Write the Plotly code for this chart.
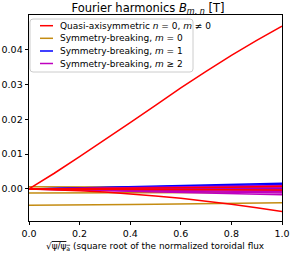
import plotly.graph_objects as go

s = [0.0, 0.1, 0.2, 0.3, 0.4, 0.5, 0.6, 0.7, 0.8, 0.9, 1.0]

# Quasi-axisymmetric n=0, m!=0
qa_series = [
    [0, 0.0045, 0.0093, 0.0141, 0.0190, 0.0240, 0.0290, 0.0337, 0.0383, 0.0426, 0.0467],
    [0, -0.0002, -0.0005, -0.0009, -0.0014, -0.0020, -0.0027, -0.0035, -0.0044, -0.0054, -0.0065],
    [0, 0.00003, 0.0001, 0.0001, 0.0002, 0.0002, 0.0003, 0.0004, 0.0005, 0.0006, 0.0008],
    [0, -0.00002, -0.00005, -0.0001, -0.0001, -0.00015, -0.0002, -0.0002, -0.00025, -0.0003, -0.0003],
]
# Symmetry-breaking m=0
m0_series = [
    [0.0006, 0.0006, 0.0006, 0.0006, 0.0006, 0.0005, 0.0005, 0.0005, 0.0005, 0.0004, 0.0004],
    [-0.0012, -0.0012, -0.0012, -0.0012, -0.0011, -0.0011, -0.0011, -0.0010, -0.0010, -0.0009, -0.0009],
    [-0.0047, -0.0047, -0.0046, -0.0046, -0.0045, -0.0044, -0.0043, -0.0043, -0.0042, -0.0041, -0.0040],
]
# Symmetry-breaking m=1
m1_series = [
    [0, 0.00016, 0.00032, 0.00048, 0.00064, 0.0008, 0.00096, 0.00112, 0.00128, 0.00144, 0.0016],
    [0, 0.00013, 0.00026, 0.00039, 0.00052, 0.00065, 0.00078, 0.00091, 0.00104, 0.00117, 0.0013],
    [0, 0.0001, 0.0002, 0.0003, 0.0004, 0.0005, 0.0006, 0.0007, 0.0008, 0.0009, 0.0010],
    [0, 0.00007, 0.00014, 0.00021, 0.00028, 0.00035, 0.00042, 0.00049, 0.00056, 0.00063, 0.0007],
    [0, 0.00004, 0.00008, 0.00012, 0.00016, 0.0002, 0.00024, 0.00028, 0.00032, 0.00036, 0.0004],
    [0, 0.00001, 0.00002, 0.00003, 0.00004, 0.00005, 0.00006, 0.00007, 0.00008, 0.00009, 0.0001],
]
# Symmetry-breaking m>=2
m2_series = [
    [0, 0.0001, 0.0002, 0.0003, 0.0004, 0.0005, 0.0006, 0.0007, 0.0008, 0.0009, 0.0010],
    [0, 0.00005, 0.0001, 0.00015, 0.0002, 0.00025, 0.0003, 0.00035, 0.0004, 0.00045, 0.0005],
    [0, 0.0, 0.0, 0.0, 0.0, 0.0, 0.0, 0.0, 0.0, 0.0, 0.0],
    [0, -0.00004, -0.00008, -0.00012, -0.00016, -0.0002, -0.00024, -0.00028, -0.00032, -0.00036, -0.0004],
    [0, -0.00008, -0.00016, -0.00024, -0.00032, -0.0004, -0.00048, -0.00056, -0.00064, -0.00072, -0.0008],
    [0, -0.00012, -0.00024, -0.00036, -0.00048, -0.0006, -0.00072, -0.00084, -0.00096, -0.00108, -0.0012],
    [0, -0.00017, -0.00034, -0.00051, -0.00068, -0.00085, -0.00102, -0.00119, -0.00136, -0.00153, -0.0017],
]

labels = [
    "Quasi-axisymmetric <i>n</i> = 0, <i>m</i> ≠ 0",
    "Symmetry-breaking, <i>m</i> = 0",
    "Symmetry-breaking, <i>m</i> = 1",
    "Symmetry-breaking, <i>m</i> ≥ 2",
]
colors = ["#ff0000", "#c48c12", "#0000ff", "#bf00bf"]
groups = [qa_series, m0_series, m1_series, m2_series]

x_ticks = [0.0, 0.2, 0.4, 0.6, 0.8, 1.0]
y_ticks = [0.00, 0.01, 0.02, 0.03, 0.04]

# figure geometry (pixels)
W, H = 291, 259
ML, MR, MT, MB = 29, 9, 15, 38
PW, PH = W - ML - MR, H - MT - MB


def px_x(px):
    return (px - ML) / PW


def px_y(py):
    return (H - MB - py) / PH


fig = go.Figure()
draw_order = [1, 2, 3, 0]
for gi in draw_order:
    for k, ys in enumerate(groups[gi]):
        fig.add_trace(go.Scatter(
            x=s, y=ys, mode="lines",
            line=dict(color=colors[gi], width=1.5),
            name=labels[gi], legendgroup=str(gi),
            showlegend=False,
            hoverinfo="skip",
        ))

font = "DejaVu Sans"

# matplotlib-style legend box with rounded corners (drawn as shapes/annotations)
bx0, bx1, by0, by1 = 30, 193, 19, 72
hw, hh, r = (bx1 - bx0) / 2, (by1 - by0) / 2, 3
path = (f"M {-hw + r},{-hh} L {hw - r},{-hh} Q {hw},{-hh} {hw},{-hh + r} "
        f"L {hw},{hh - r} Q {hw},{hh} {hw - r},{hh} L {-hw + r},{hh} "
        f"Q {-hw},{hh} {-hw},{hh - r} L {-hw},{-hh + r} Q {-hw},{-hh} {-hw + r},{-hh} Z")
shapes = [dict(type="path", xref="paper", yref="paper",
               xsizemode="pixel", ysizemode="pixel",
               xanchor=px_x((bx0 + bx1) / 2), yanchor=px_y((by0 + by1) / 2),
               path=path,
               line=dict(color="#cccccc", width=1),
               fillcolor="rgba(255,255,255,0.8)", layer="above")]
annotations = []
entry_y = [25.7, 38.3, 51.0, 63.5]
for i, lab in enumerate(labels):
    yy = px_y(entry_y[i])
    shapes.append(dict(type="line", xref="paper", yref="paper",
                       x0=px_x(40), x1=px_x(53), y0=yy, y1=yy,
                       line=dict(color=colors[i], width=1.5), layer="above"))
    annotations.append(dict(text=lab, xref="paper", yref="paper",
                            x=px_x(58), y=yy, xanchor="left", yanchor="middle",
                            showarrow=False, font=dict(family=font, size=9, color="black")))

annotations.append(dict(
    text="√<span style=\"text-decoration:overline\">ψ/ψ<sub>a</sub></span> (square root of the normalized toroidal flux",
    xref="paper", yref="paper", x=px_x(155), y=px_y(246.5), xanchor="center", yanchor="middle",
    showarrow=False, font=dict(family=font, size=8.9, color="black")))

fig.update_layout(
    width=W, height=H,
    margin=dict(l=ML, r=MR, t=MT, b=MB, autoexpand=False),
    paper_bgcolor="white", plot_bgcolor="white",
    font=dict(family=font, size=9.5, color="black"),
    title=dict(text="Fourier harmonics <i>B</i><sub><i>m, n</i></sub> [T]",
               x=148 / W, xanchor="center", xref="container",
               y=1 - 8 / H, yanchor="middle", yref="container",
               font=dict(family=font, size=11.5, color="black")),
    showlegend=False,
    shapes=shapes,
    annotations=annotations,
)
fig.update_xaxes(
    range=[0, 1], tickvals=x_ticks, ticktext=[f"{v:.1f}" for v in x_ticks],
    showgrid=False, zeroline=False, showline=True, mirror=True, automargin=False,
    linecolor="black", linewidth=0.8, ticks="outside", ticklen=3.5, tickwidth=0.8,
    tickcolor="black",
)
fig.update_yaxes(
    range=[-0.0092, 0.0499], tickvals=y_ticks, ticktext=[f"{v:.2f}" for v in y_ticks],
    showgrid=False, zeroline=False, showline=True, mirror=True, automargin=False,
    linecolor="black", linewidth=0.8, ticks="outside", ticklen=3.5, tickwidth=0.8,
    tickcolor="black",
)
fig.write_html("out.html", config={"displayModeBar": False},
               post_script="document.body.style.margin='0';document.body.style.padding='0';")
